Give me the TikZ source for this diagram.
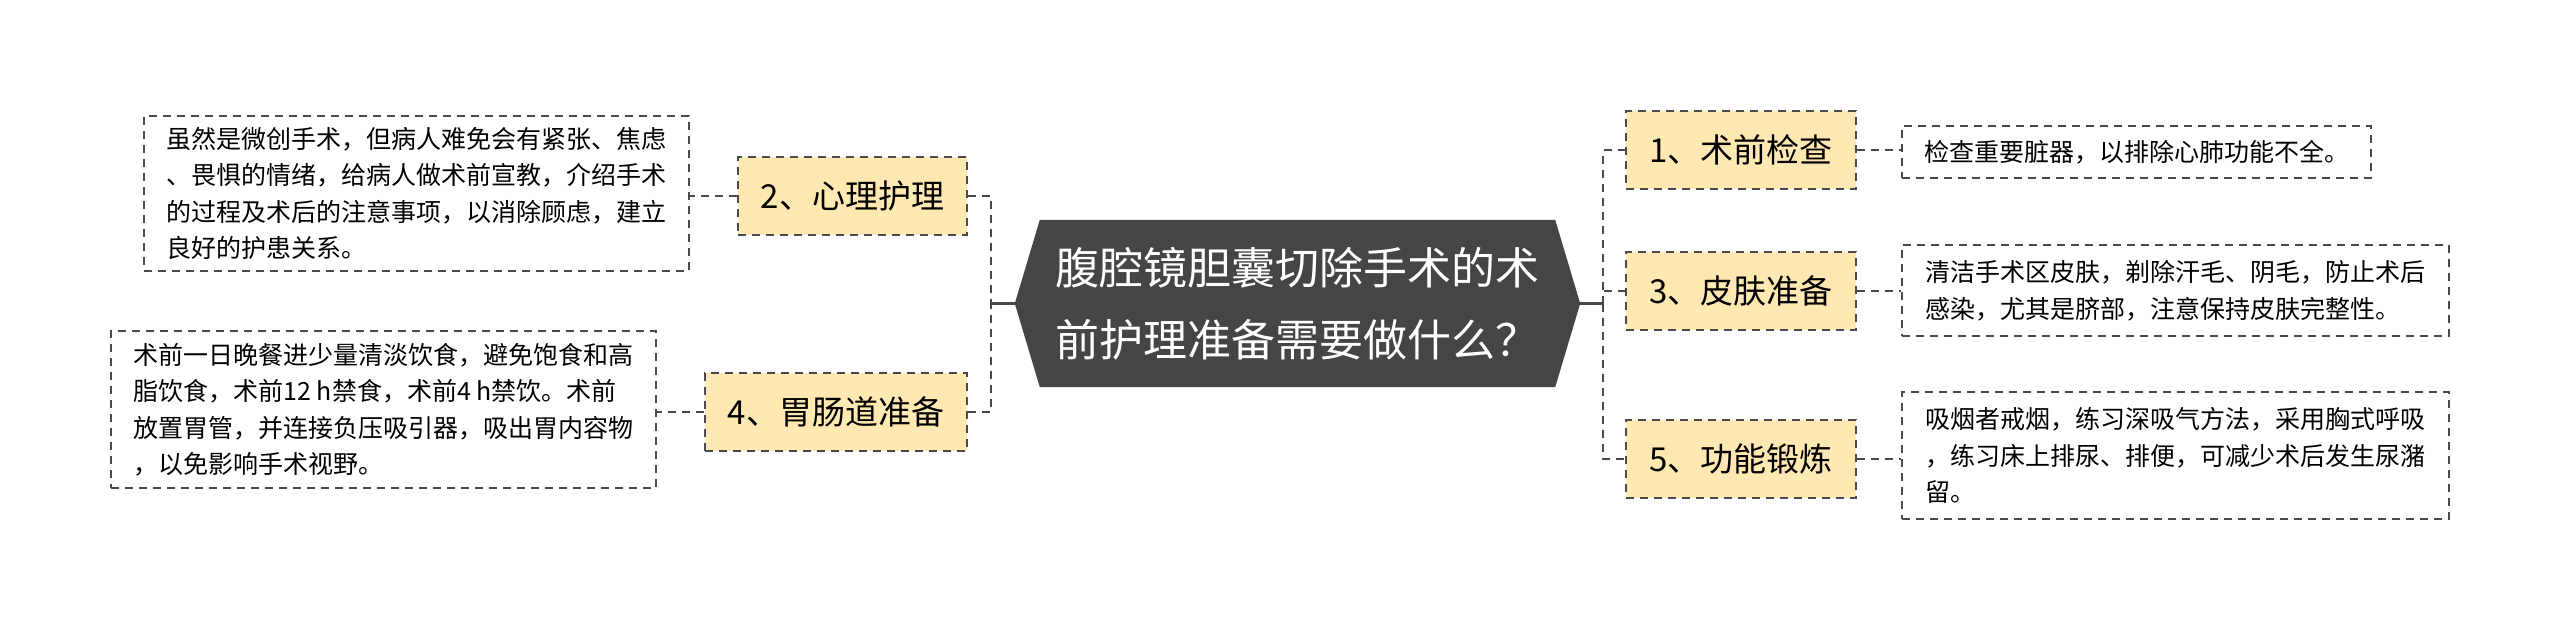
\documentclass[tikz,border=0pt]{standalone}
\usepackage{fontspec}
\setmainfont{Noto Sans CJK SC}
\usetikzlibrary{backgrounds}

\definecolor{rootgray}{HTML}{454545}
\definecolor{branchfill}{HTML}{FFE8B2}
\definecolor{linegray}{HTML}{4A4A4A}

\begin{document}
\begin{tikzpicture}
    [
        x=1pt, y=-1pt,
        every node/.style={inner sep=0pt},
        centerbox/.style={minimum width=565pt, minimum height=167pt, text=white, align=left, font=\fontsize{44}{72}\selectfont},
        branchbox/.style={draw=linegray, fill=branchfill, dash pattern=on 8pt off 6pt, line width=2pt, minimum height=78pt, font=\fontsize{33}{40}\selectfont},
        leafbox/.style={draw=linegray, fill=white, dash pattern=on 8pt off 6pt, line width=1.6pt, align=left, font=\fontsize{25}{36.5}\selectfont},
        dashlink/.style={draw=linegray, dash pattern=on 8pt off 6pt, line width=2pt},
        solidlink/.style={draw=linegray, line width=2.5pt},
    ]
    \useasboundingbox (0,0) rectangle (2560,630);

    \node (root) [centerbox] at (1297.5, 303.5) {腹腔镜胆囊切除手术的术\\前护理准备需要做什么？};
    \begin{scope}[on background layer]
        \fill[rootgray] (root.west) -- ([xshift=25pt]root.north west) -- ([xshift=-25pt]root.north east)
            -- (root.east) -- ([xshift=-25pt]root.south east) -- ([xshift=25pt]root.south west) -- cycle;
    \end{scope}

    \node (care) [branchbox, minimum width=229pt] at (852.5, 196) {2、心理护理};
    \node (gut) [branchbox, minimum width=262pt] at (836, 411.5) {4、胃肠道准备};
    \node (exam) [branchbox, minimum width=230pt] at (1741, 150) {1、术前检查};
    \node (skin) [branchbox, minimum width=230pt] at (1741, 290.5) {3、皮肤准备};
    \node (train) [branchbox, minimum width=230pt] at (1741, 459) {5、功能锻炼};

    \node (carenote) [leafbox, minimum width=545pt, minimum height=155pt] at (416.5, 193.5) {虽然是微创手术，但病人难免会有紧张、焦虑\\、畏惧的情绪，给病人做术前宣教，介绍手术\\的过程及术后的注意事项，以消除顾虑，建立\\良好的护患关系。};
    \node (gutnote) [leafbox, minimum width=545pt, minimum height=157pt] at (383.5, 409.5) {术前一日晚餐进少量清淡饮食，避免饱食和高\\脂饮食，术前12 h禁食，术前4 h禁饮。术前\\放置胃管，并连接负压吸引器，吸出胃内容物\\，以免影响手术视野。};
    \node (examnote) [leafbox, minimum width=469pt, minimum height=52pt] at (2136.5, 152) {检查重要脏器，以排除心肺功能不全。};
    \node (skinnote) [leafbox, minimum width=547pt, minimum height=91pt] at (2175.5, 290.5) {清洁手术区皮肤，剃除汗毛、阴毛，防止术后\\感染，尤其是脐部，注意保持皮肤完整性。};
    \node (trainnote) [leafbox, minimum width=547pt, minimum height=127pt] at (2175.5, 455.5) {吸烟者戒烟，练习深吸气方法，采用胸式呼吸\\，练习床上排尿、排便，可减少术后发生尿潴\\留。};

    \coordinate (leftjoin) at (991, 303.5);
    \coordinate (rightjoin) at (1603, 303.5);
    \draw[solidlink] (root.west) -- (leftjoin);
    \draw[solidlink] (root.east) -- (rightjoin);
    \draw[dashlink] (care.east) -| (leftjoin);
    \draw[dashlink] (gut.east) -| (leftjoin);
    \draw[dashlink] (rightjoin) |- (exam.west);
    \draw[dashlink] (rightjoin) |- (skin.west);
    \draw[dashlink] (rightjoin) |- (train.west);

    \draw[dashlink] (care.west) -- (care.west -| carenote.east);
    \draw[dashlink] (gut.west) -- (gut.west -| gutnote.east);
    \draw[dashlink] (exam.east) -- (exam.east -| examnote.west);
    \draw[dashlink] (skin.east) -- (skin.east -| skinnote.west);
    \draw[dashlink] (train.east) -- (train.east -| trainnote.west);
\end{tikzpicture}
\end{document}
